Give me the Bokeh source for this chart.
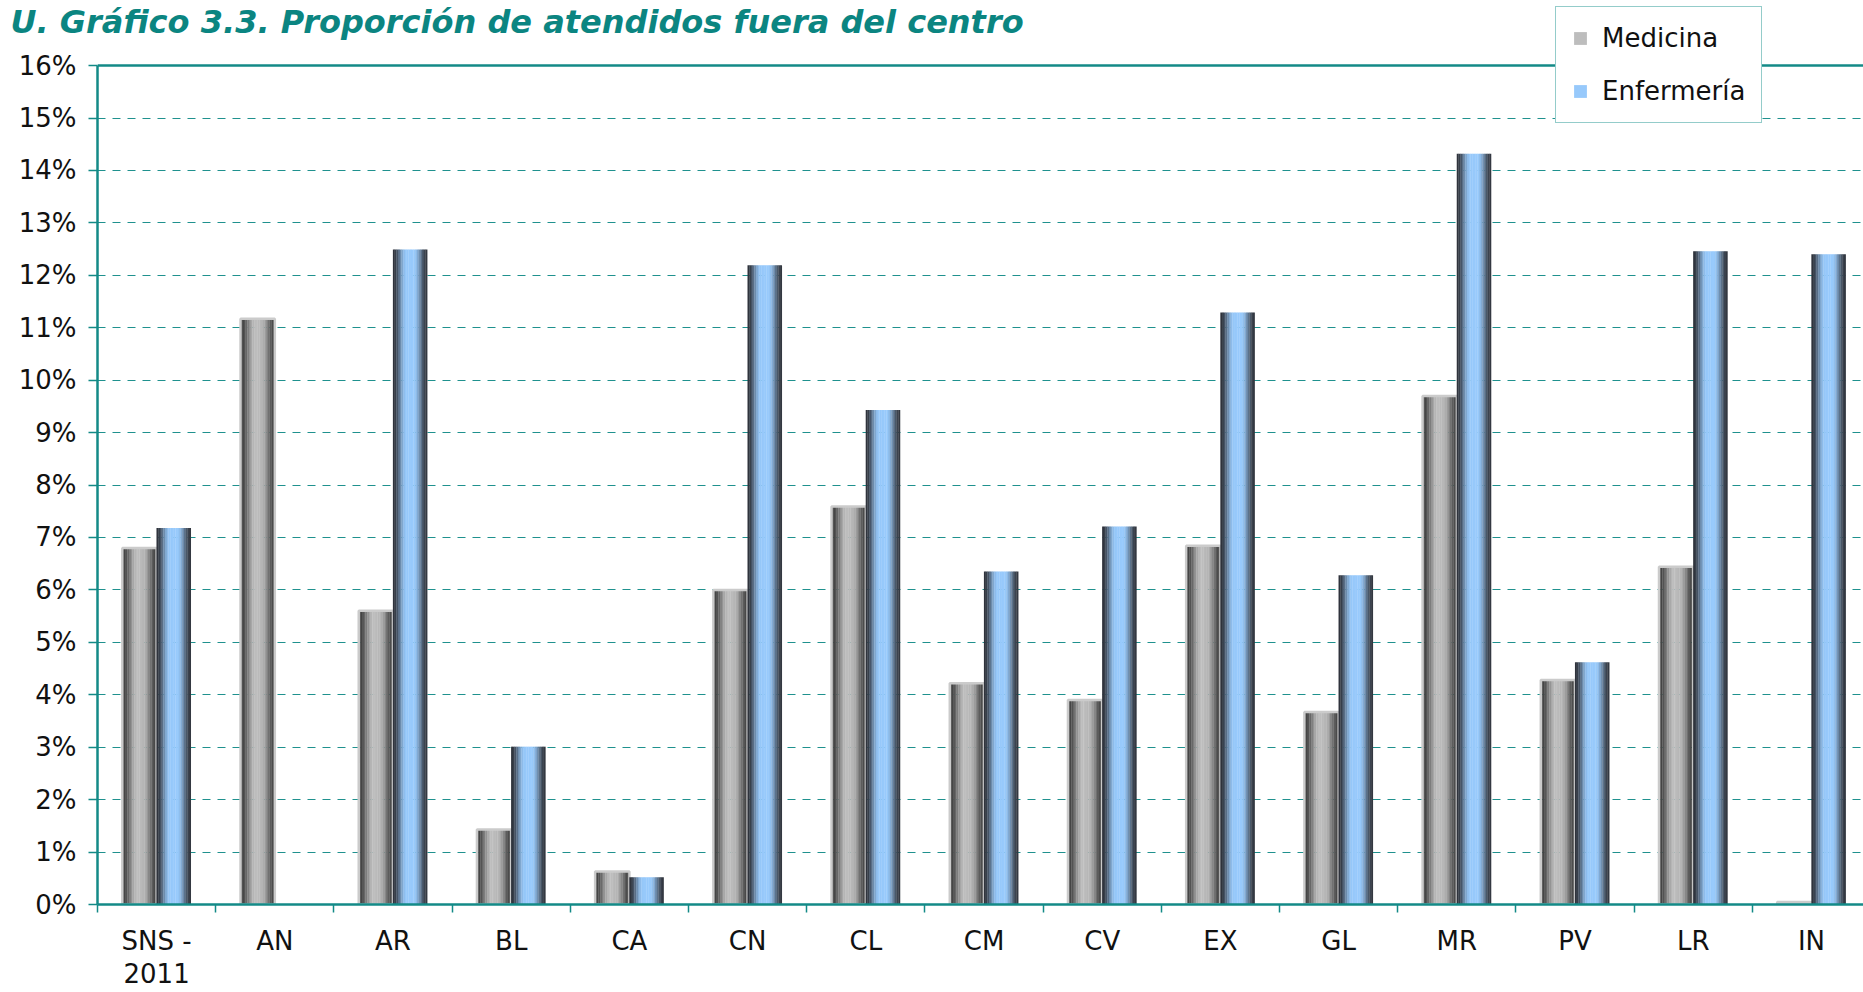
import math
from bokeh.plotting import figure
from bokeh.layouts import column
from bokeh.models import (ColumnDataSource, FixedTicker, PrintfTickFormatter, Span,
                          Legend, LegendItem, Range1d)
from bokeh.embed import file_html
from bokeh.resources import INLINE

# ---------------- data ----------------
categories = ["SNS -\n2011", "AN", "AR", "BL", "CA", "CN", "CL", "CM", "CV", "EX",
              "GL", "MR", "PV", "LR", "IN"]
medicina = [6.80, 11.17, 5.60, 1.43, 0.63, 6.00, 7.59, 4.22, 3.90, 6.84,
            3.67, 9.70, 4.28, 6.44, 0.05]
enfermeria = [7.18, 0.0, 12.49, 3.01, 0.52, 12.19, 9.43, 6.35, 7.21, 11.29,
              6.28, 14.32, 4.62, 12.46, 12.40]
y_ticks = list(range(0, 17))
series_names = ["Medicina", "Enfermería"]
title_text = "U. Gráfico 3.3. Proporción de atendidos fuera del centro"

# ---------------- style ----------------
TEAL = "#138a87"
FONT = "DejaVu Sans"
BAR_W = 0.29
N_STRIPS = 20
Y_MAX = 16
Y_TOP = 17.241          # frame extends above the 16 % line to host the legend
TITLE_H = 46
MED_STOPS = [(0.0, (60, 60, 60)), (0.45, (190, 190, 190)), (0.6, (182, 182, 182)),
             (1.0, (66, 66, 66))]
ENF_STOPS = [(0.0, (46, 50, 58)), (0.4, (150, 200, 250)), (0.6, (152, 202, 252)),
             (1.0, (50, 55, 63))]


def color_at(stops, t):
    for (p0, c0), (p1, c1) in zip(stops[:-1], stops[1:]):
        if p0 <= t <= p1:
            u = (t - p0) / (p1 - p0)
            u = 0.5 - 0.5 * math.cos(math.pi * u)
            r, g, b = (round(a + (bb - a) * u) for a, bb in zip(c0, c1))
            return "#%02x%02x%02x" % (r, g, b)
    r, g, b = stops[-1][1]
    return "#%02x%02x%02x" % (r, g, b)


def strip_source(values, offset, stops):
    xs, tops, cols = [], [], []
    for i, v in enumerate(values):
        for j in range(N_STRIPS):
            t = (j + 0.5) / N_STRIPS
            xs.append(i + offset - BAR_W / 2 + t * BAR_W)
            tops.append(v)
            cols.append(color_at(stops, t))
    return ColumnDataSource(dict(x=xs, top=tops, color=cols))


# ---------------- title strip (drawn underneath the main figure) ----------------
tf = figure(width=1863, height=TITLE_H, x_range=Range1d(0, 1), y_range=Range1d(0, 1),
            x_axis_type=None, y_axis_type=None, output_backend="svg",
            toolbar_location=None, min_border_left=97, min_border_right=0,
            min_border_top=0, min_border_bottom=0)
tf.outline_line_color = None
tf.xgrid.visible = False
tf.ygrid.visible = False
tf.title.text = title_text
tf.title.text_font = FONT
tf.title.text_font_style = "bold italic"
tf.title.text_font_size = "32px"
tf.title.text_color = "#0b8581"
tf.title.align = "left"
tf.title.offset = -87
tf.title.standoff = 0

# ---------------- main chart ----------------
n = len(categories)
p = figure(width=1863, height=992,
           x_range=Range1d(-0.5, 14.44), y_range=Range1d(0, Y_TOP),
           output_backend="svg", toolbar_location=None,
           min_border_left=97, min_border_right=0, min_border_top=0,
           min_border_bottom=0, margin=(-TITLE_H, 0, 0, 0),
           background_fill_alpha=0, border_fill_alpha=0)
p.outline_line_color = None

# bars as vertical gradient strips
med_src = strip_source(medicina, -BAR_W / 2, MED_STOPS)
enf_src = strip_source(enfermeria, BAR_W / 2, ENF_STOPS)
r_med = p.vbar(x="x", top="top", bottom=0, width=BAR_W / N_STRIPS * 1.15,
               fill_color="color", line_color=None, source=med_src)
p.vbar(x=[i - BAR_W / 2 for i in range(n)], top=medicina, bottom=0, width=BAR_W,
       fill_alpha=0, line_color="#cbcbcb", line_width=2.5)
r_enf = p.vbar(x="x", top="top", bottom=0, width=BAR_W / N_STRIPS * 1.15,
               fill_color="color", line_color=None, source=enf_src)

# top frame line at 16 %
p.add_layout(Span(location=Y_MAX, dimension="width", line_color=TEAL, line_width=2.5))

# axes
xa = p.xaxis[0]
xa.ticker = FixedTicker(ticks=list(range(n)), minor_ticks=[i - 0.5 for i in range(n + 1)])
xa.major_label_overrides = {i: c for i, c in enumerate(categories)}
xa.major_tick_out = 0
xa.major_tick_in = 0
xa.minor_tick_out = 8
xa.minor_tick_in = 0
xa.minor_tick_line_color = TEAL
xa.minor_tick_line_width = 1.5
xa.axis_line_color = TEAL
xa.axis_line_width = 2.5
xa.major_label_standoff = 13
xa.major_label_text_font = FONT
xa.major_label_text_font_size = "26px"
xa.major_label_text_line_height = 1.12
xa.major_label_text_color = "#111111"

ya = p.yaxis[0]
ya.bounds = (0, Y_MAX)
ya.ticker = FixedTicker(ticks=y_ticks)
ya.formatter = PrintfTickFormatter(format="%d%%")
ya.major_tick_out = 9
ya.major_tick_in = 0
ya.minor_tick_out = 0
ya.minor_tick_in = 0
ya.major_tick_line_color = TEAL
ya.major_tick_line_width = 1.5
ya.axis_line_color = TEAL
ya.axis_line_width = 2.5
ya.major_label_standoff = 12
ya.major_label_text_font = FONT
ya.major_label_text_font_size = "26px"
ya.major_label_text_color = "#111111"

# grid
p.xgrid.visible = False
p.ygrid.ticker = FixedTicker(ticks=y_ticks[1:-1])
p.ygrid.grid_line_color = "#1f918e"
p.ygrid.grid_line_dash = "8 7"
p.ygrid.grid_line_width = 1.2

# legend
legend = Legend(items=[LegendItem(label=series_names[0], renderers=[r_med], index=9),
                       LegendItem(label=series_names[1], renderers=[r_enf], index=9)],
                location=(1458, 781))
legend.label_text_font = FONT
legend.label_text_font_size = "26px"
legend.label_text_color = "#111111"
legend.glyph_width = 16
legend.glyph_height = 16
legend.label_height = 16
legend.spacing = 23
legend.padding = 16
legend.margin = 0
legend.label_standoff = 14
legend.border_line_color = "#2a9a96"
legend.border_line_width = 1.5
legend.background_fill_color = "white"
legend.background_fill_alpha = 1.0
p.add_layout(legend)

layout = column(tf, p, spacing=0)
open("out.html", "w").write(file_html(layout, INLINE))
